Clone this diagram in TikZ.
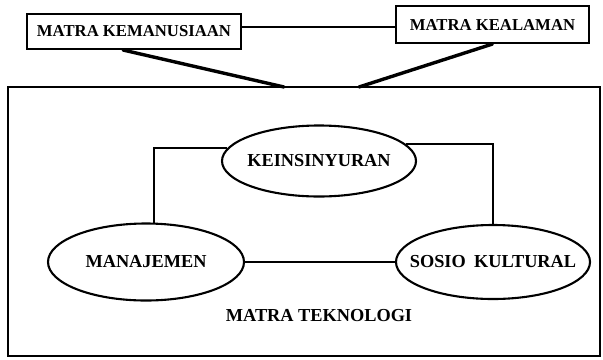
\documentclass[tikz,border=0pt]{standalone}
\usepackage{fontspec}
\setmainfont{Liberation Serif}
\usetikzlibrary{shapes.geometric}
\newcommand{\zw}[1]{\makebox[0pt]{#1}}
\begin{document}
\begin{tikzpicture}[x=1bp,y=-1bp,
  topbox/.style={draw,line width=2bp,inner sep=0pt,font=\bfseries\fontsize{16.7bp}{18bp}\selectfont},
  oval/.style={draw,ellipse,line width=2.1bp,inner sep=0pt,font=\bfseries\fontsize{18.3bp}{20bp}\selectfont},
  link/.style={line width=1.9bp},
  thick link/.style={line width=3.4bp,line cap=round}]
\useasboundingbox (0,0) rectangle (603,359);
% outer frame
\node[draw,line width=1.9bp,minimum width=592bp,minimum height=269bp,inner sep=0pt] (T) at (304,221.5) {};
% top boxes
\node[topbox,minimum width=214bp,minimum height=35bp] (l) at (134,31.5) {MATRA KEMANUSIAAN};
\node[topbox,minimum width=193bp,minimum height=37bp] (r) at (492.5,24.5) {MATRA KEALAMAN};
\coordinate (ly) at (0,27);
\draw[link] (l.east |- ly) -- (r.west |- ly);
\coordinate (j1) at (284,87);
\coordinate (j2) at (359,87);
\draw[thick link] ([xshift=-11bp]l.south) -- (j1);
\draw[thick link] (r.south) -- (j2);
% ovals
\node[oval,minimum width=194bp,minimum height=71bp] (k) at (319,161) {\zw{KEINSINYURAN}};
\node[oval,minimum width=196bp,minimum height=77bp] (m) at (146,262) {\zw{MANAJEMEN}};
\node[oval,minimum width=194bp,minimum height=74bp] (s) at (493,262) {\zw{SOSIO\hspace{0.45em}KULTURAL}};
\draw[link] (k.172.5) -| (m.79.5);
\draw[link] (k.11.3) -| (s.north);
\draw[link] (m.east) -- (s.west);
% label
\node[font=\bfseries\fontsize{18.3bp}{20bp}\selectfont,inner sep=0pt] (lab) at (319,315.5) {MATRA TEKNOLOGI};
\end{tikzpicture}
\end{document}
